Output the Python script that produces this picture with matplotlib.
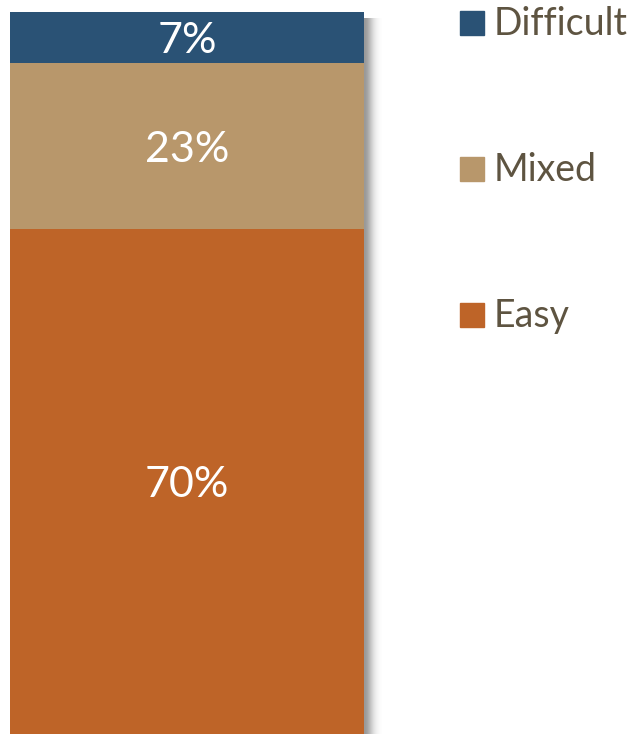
import matplotlib.pyplot as plt
from matplotlib.patches import Rectangle
import numpy as np

plt.rcParams['font.family'] = ['Lato', 'DejaVu Sans']

# stacked from the bottom up
categories = ['Easy', 'Mixed', 'Difficult']
shares = [70, 23, 7]
colors = ['#BE6428', '#B8976B', '#2A5275']

W, H = 635, 734
fig = plt.figure(figsize=(W / 100, H / 100), dpi=100)

# bar axes in pixel terms: x 10..364, y 12..734 from top
bx0, bx1, btop = 10, 364, 12
ax = fig.add_axes([bx0 / W, 0, (bx1 - bx0) / W, (H - btop) / H])

# soft drop shadow on the right edge of the bar
shadow = fig.add_axes([bx1 / W, 0, 18 / W, (H - btop - 6) / H], zorder=0)
t = np.linspace(0, 1, 64)
grad = 1 - 0.4 * np.exp(-(t / 0.5) ** 2)
shadow.imshow(np.tile(grad, (2, 1)), cmap='gray', vmin=0, vmax=1,
              aspect='auto', extent=[0, 1, 0, 1])
shadow.axis('off')
ax.set_zorder(1)

bottom = 0
for cat, val, col in zip(categories, shares, colors):
    ax.bar(0, val, width=1, bottom=bottom, color=col, linewidth=0)
    ax.text(0, bottom + val / 2 - 0.55, f'{val}%', ha='center', va='center',
            color='white', fontsize=31)
    bottom += val

ax.set_xlim(-0.5, 0.5)
ax.set_ylim(0, 100)
ax.axis('off')

# legend, top entry first
legend_y = [23, 169, 315]
for cat, col, y in zip(categories[::-1], colors[::-1], legend_y):
    fig.patches.append(Rectangle((460 / W, 1 - (y + 12) / H), 24 / W, 24 / H,
                                 transform=fig.transFigure, color=col))
    fig.text(494 / W, 1 - (y + 1) / H, cat, ha='left', va='center',
             color='#5E5441', fontsize=27)

fig.savefig('out.png', dpi=100)
